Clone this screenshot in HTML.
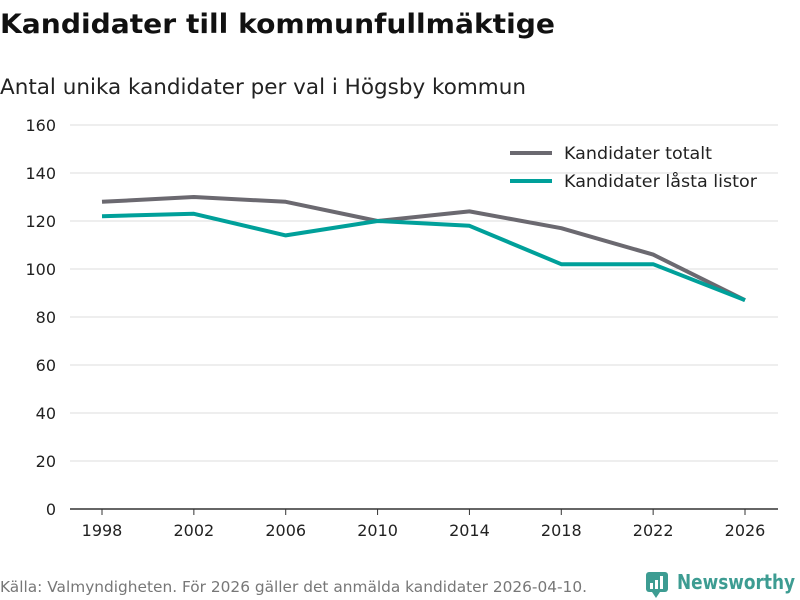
<!DOCTYPE html>
<html><head><meta charset="utf-8"><style>
body{margin:0;background:#fff;width:800px;height:600px;overflow:hidden;font-family:"DejaVu Sans","Liberation Sans",sans-serif}
svg{display:block}
</style></head><body>
<svg id="c" width="800" height="600">
<text x="0" y="33" font-size="27" font-weight="bold" fill="#111" textLength="555" lengthAdjust="spacingAndGlyphs">Kandidater till kommunfullmäktige</text>
<text x="0" y="94" font-size="21" fill="#222" textLength="526" lengthAdjust="spacingAndGlyphs">Antal unika kandidater per val i Högsby kommun</text>
<g id="grid"></g><g id="xt"></g><g id="lines"></g>
<g>
<line x1="510" y1="153" x2="552" y2="153" stroke="#6b6970" stroke-width="4"/>
<text x="564" y="159" font-size="16.5" fill="#222" textLength="148" lengthAdjust="spacingAndGlyphs">Kandidater totalt</text>
<line x1="510" y1="181" x2="552" y2="181" stroke="#00a09a" stroke-width="4"/>
<text x="564" y="187" font-size="16.5" fill="#222" textLength="193" lengthAdjust="spacingAndGlyphs">Kandidater låsta listor</text>
</g>
<text x="0" y="592" font-size="15" fill="#777" textLength="587" lengthAdjust="spacingAndGlyphs">Källa: Valmyndigheten. För 2026 gäller det anmälda kandidater 2026-04-10.</text>
<g>
<rect x="646" y="572" width="22" height="20" rx="3" fill="#3d9c92"/>
<polygon points="652,592 660,592 656,598" fill="#3d9c92"/>
<rect x="650" y="583" width="3" height="6" fill="#fff"/><rect x="655" y="580" width="3" height="9" fill="#fff"/><rect x="660" y="576" width="3" height="13" fill="#fff"/>
<text x="677" y="589" font-size="20" font-weight="bold" fill="#3d9c92" textLength="118" lengthAdjust="spacingAndGlyphs">Newsworthy</text>
</g>
</svg>
<script>
const years=[1998,2002,2006,2010,2014,2018,2022,2026];
const totalt=[128,130,128,120,124,117,106,87];
const lasta=[122,123,114,120,118,102,102,87];
const yTicks=[0,20,40,60,80,100,120,140,160];
const NS="http://www.w3.org/2000/svg";
const xS=v=>102+(v-1998)*(745-102)/28;
const yS=v=>509-v*2.4;
function mk(t,a,p){const e=document.createElementNS(NS,t);for(const k in a)e.setAttribute(k,a[k]);p.appendChild(e);return e;}
const g=document.getElementById('grid');
yTicks.forEach(v=>{
 const l=mk('line',{x1:70,x2:778,y1:yS(v),y2:yS(v),stroke:v===0?'#333':'#ddd','stroke-width':v===0?1.5:1},g);
 
 
 const t=mk('text',{x:56,y:yS(v)+6,'text-anchor':'end','font-size':16,fill:'#222'},g);t.textContent=v;
 
 
});
const xt=document.getElementById('xt');
years.forEach(y=>{
 const l=mk('line',{x1:xS(y),x2:xS(y),y1:509,y2:515,stroke:'#333'},xt);
 
 
 const t=mk('text',{x:xS(y),y:536,'text-anchor':'middle','font-size':16,fill:'#222'},xt);t.textContent=y;
 
 
});
const L=document.getElementById('lines');
[[totalt,'#6b6970','line-totalt'],[lasta,'#00a09a','line-lasta']].forEach(([d,c,n])=>{
 const p=mk('polyline',{points:d.map((v,i)=>xS(years[i])+','+yS(v)).join(' '),fill:'none',stroke:c,'stroke-width':4,'stroke-linejoin':'round'},L);
 
 
});
</script>
</body></html>
